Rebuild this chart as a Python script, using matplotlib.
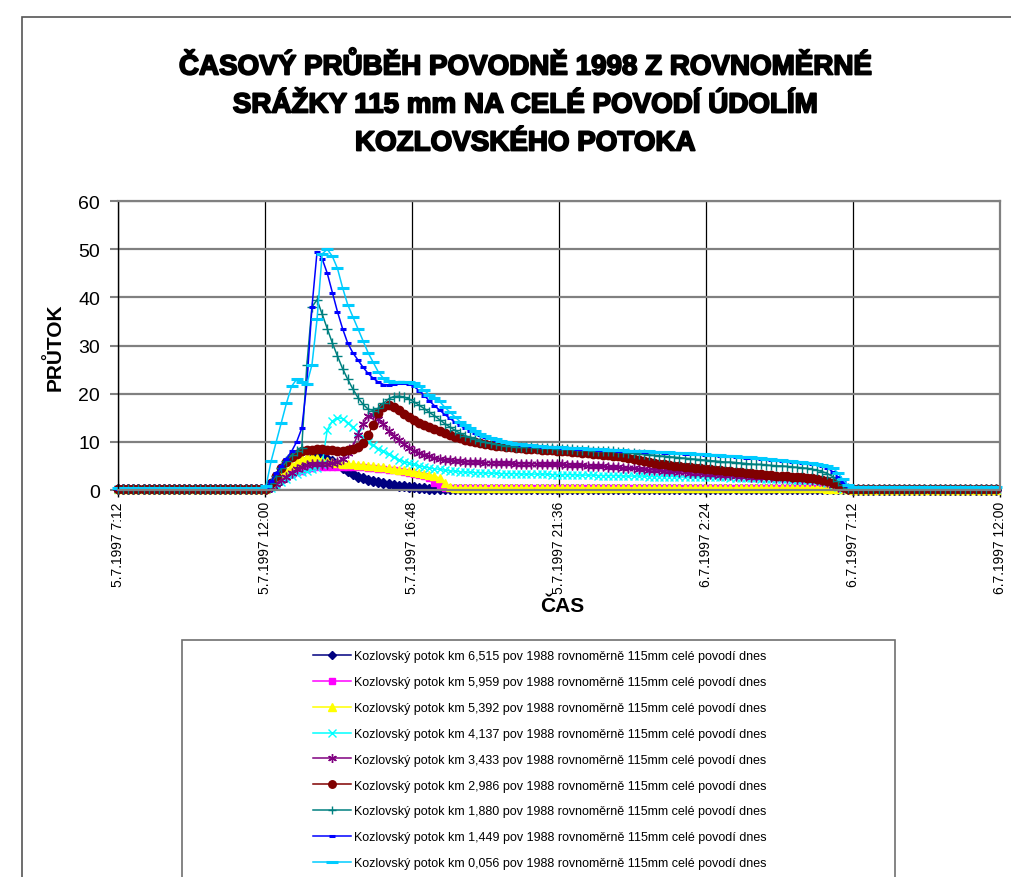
import numpy as np
import matplotlib.pyplot as plt
import matplotlib.patheffects as pe
from matplotlib.patches import Rectangle
from matplotlib.lines import Line2D

plt.rcParams['font.family'] = ['Liberation Sans', 'DejaVu Sans']

## Data: discharge every 10 minutes from 5.7.1997 7:12 (hours since 5.7. 0:00)
n_points = 173
hours = 7.2 + np.arange(n_points) / 6

km_6515 = ([0.2] * 29 +
           [0.3, 0.6, 1.2, 2.0, 2.8, 3.8, 4.8, 5.6, 6.2, 6.7,
            7.0, 6.9, 6.5, 6.0, 5.3, 4.6, 3.9, 3.3, 2.8, 2.4,
            2.1, 1.9, 1.7, 1.5, 1.3, 1.1, 0.9, 0.8, 0.7, 0.6,
            0.5, 0.4, 0.3, 0.25, 0.2] +
           [0.15] * 80 + [0.1] * 29)

km_5959 = ([0.2] * 29 +
           [0.3, 0.8, 1.5, 2.2, 2.8, 3.3, 3.7, 4.0, 4.3, 4.5,
            4.7, 4.8, 4.8, 4.8, 4.8, 4.8, 4.8, 4.8, 4.7, 4.7,
            4.6, 4.5, 4.4, 4.3, 4.2, 4.1, 4.0, 3.8, 3.6, 3.4,
            3.2, 3.0, 2.5, 1.5, 0.8, 0.5] +
           [0.4] * 74 + [0.3, 0.25, 0.2, 0.2, 0.2] + [0.15] * 29)

km_5392 = ([0.2] * 29 +
           [0.3, 1.0, 2.0, 3.0, 4.0, 5.0, 5.8, 6.4, 6.8, 6.9,
            6.7, 6.3, 6.0, 5.8, 5.6, 5.5, 5.4, 5.3, 5.2, 5.1,
            5.0, 4.9, 4.8, 4.7, 4.5, 4.4, 4.2, 4.1, 4.0, 3.8,
            3.6, 3.4, 3.2, 2.9, 2.5, 1.5, 0.6] +
           [0.45] * 73 + [0.3, 0.2, 0.2, 0.15, 0.15] + [0.1] * 29)

km_4137 = ([0.2] * 29 +
           [0.2, 0.5, 1.0, 1.6, 2.3, 2.9, 3.4, 3.7, 4.0, 4.3,
            4.6, 5.5, 12.5, 14.3, 15.0, 14.8, 14.0, 13.0, 12.0, 11.0,
            10.0, 9.3, 8.6, 8.0, 7.4, 6.8, 6.3, 5.9, 5.6, 5.3,
            5.0, 4.8, 4.6, 4.4, 4.3, 4.1, 4.0, 3.9, 3.8, 3.7,
            3.7, 3.6, 3.6, 3.5, 3.5, 3.5, 3.4, 3.4, 3.4, 3.4,
            3.3, 3.3, 3.3, 3.3, 3.3, 3.3, 3.2, 3.2, 3.2, 3.2,
            3.2, 3.1, 3.1, 3.1, 3.1, 3.0, 3.0, 3.0, 3.0, 3.0,
            2.9, 2.9, 2.9, 2.9, 2.9, 2.8, 2.8, 2.8, 2.8, 2.8,
            2.8, 2.7, 2.7, 2.7, 2.7, 2.7, 2.7, 2.6, 2.6, 2.6,
            2.6, 2.5, 2.5, 2.5, 2.4, 2.4, 2.4, 2.3, 2.3, 2.3,
            2.2, 2.2, 2.2, 2.1, 2.1, 2.1, 2.0, 2.0, 2.0, 1.9,
            1.5, 1.0, 0.6, 0.3, 0.2] +
           [0.15] * 29)

km_3433 = ([0.2] * 29 +
           [0.2, 0.6, 1.2, 2.0, 2.8, 3.6, 4.3, 4.8, 5.1, 5.3,
            5.4, 5.4, 5.5, 5.6, 5.8, 6.5, 7.6, 9.0, 11.5, 13.8,
            15.3, 15.5, 14.8, 13.6, 12.3, 11.2, 10.3, 9.5, 8.8, 8.2,
            7.7, 7.3, 7.0, 6.7, 6.5, 6.3, 6.2, 6.1, 6.0, 5.9,
            5.9, 5.8, 5.8, 5.7, 5.7, 5.7, 5.6, 5.6, 5.6, 5.5,
            5.5, 5.5, 5.5, 5.4, 5.4, 5.4, 5.3, 5.3, 5.3, 5.2,
            5.2, 5.1, 5.1, 5.0, 5.0, 4.9, 4.9, 4.8, 4.7, 4.7,
            4.6, 4.5, 4.5, 4.4, 4.3, 4.2, 4.2, 4.1, 4.0, 3.9,
            3.9, 3.8, 3.7, 3.6, 3.6, 3.5, 3.4, 3.3, 3.3, 3.2,
            3.1, 3.1, 3.0, 2.9, 2.9, 2.8, 2.8, 2.7, 2.7, 2.6,
            2.5, 2.5, 2.4, 2.4, 2.3, 2.3, 2.2, 2.1, 2.0, 1.9,
            1.6, 1.1, 0.7, 0.4, 0.3] +
           [0.2] * 29)

km_2986 = ([0.2] * 29 +
           [0.3, 1.5, 3.0, 4.5, 5.8, 6.8, 7.5, 8.0, 8.3, 8.4,
            8.5, 8.5, 8.4, 8.3, 8.2, 8.2, 8.3, 8.6, 9.0, 9.8,
            11.5, 13.5, 16.0, 17.3, 17.6, 17.3, 16.6, 15.8, 15.1, 14.5,
            14.0, 13.5, 13.0, 12.6, 12.2, 11.8, 11.4, 11.0, 10.7, 10.4,
            10.1, 9.9, 9.7, 9.5, 9.3, 9.2, 9.1, 9.0, 8.9, 8.8,
            8.7, 8.6, 8.5, 8.5, 8.4, 8.3, 8.3, 8.2, 8.1, 8.0,
            7.9, 7.8, 7.7, 7.6, 7.5, 7.4, 7.3, 7.2, 7.1, 7.0,
            6.8, 6.6, 6.4, 6.2, 6.0, 5.8, 5.6, 5.4, 5.3, 5.2,
            5.0, 4.9, 4.8, 4.7, 4.6, 4.5, 4.4, 4.3, 4.2, 4.1,
            4.0, 3.9, 3.8, 3.7, 3.6, 3.5, 3.4, 3.3, 3.2, 3.1,
            3.0, 3.0, 2.9, 2.8, 2.7, 2.6, 2.5, 2.4, 2.3, 2.1,
            1.9, 1.5, 1.0, 0.6, 0.3] +
           [0.2] * 29)

km_1880 = ([0.2] * 29 +
           [0.4, 1.5, 3.0, 4.5, 6.0, 7.2, 8.0, 8.8, 26.0, 38.0,
            39.5, 36.5, 33.5, 30.5, 27.8, 25.2, 23.0, 21.0, 19.2, 17.8,
            16.8, 16.5, 17.0, 18.0, 18.9, 19.4, 19.5, 19.3, 18.9, 18.3,
            17.6, 16.9, 16.1, 15.4, 14.6, 13.8, 13.1, 12.4, 11.8, 11.3,
            10.9, 10.5, 10.2, 9.9, 9.7, 9.5, 9.3, 9.2, 9.1, 9.0,
            9.0, 8.9, 8.9, 8.8, 8.8, 8.7, 8.7, 8.6, 8.6, 8.5,
            8.5, 8.4, 8.4, 8.3, 8.2, 8.2, 8.1, 8.0, 8.0, 7.9,
            7.8, 7.7, 7.6, 7.5, 7.4, 7.3, 7.2, 7.1, 7.0, 6.9,
            6.8, 6.7, 6.6, 6.5, 6.4, 6.3, 6.2, 6.1, 6.0, 5.9,
            5.8, 5.8, 5.7, 5.6, 5.5, 5.4, 5.3, 5.3, 5.2, 5.1,
            5.0, 5.0, 4.9, 4.8, 4.7, 4.6, 4.5, 4.3, 4.1, 3.8,
            3.4, 2.8, 1.9, 1.1, 0.5] +
           [0.3] * 29)

km_1449 = ([0.2] * 29 +
           [0.4, 1.8, 3.5, 5.0, 6.5, 8.0, 10.0, 12.8, 22.0, 38.0,
            49.5, 48.0, 45.0, 41.0, 37.0, 33.5, 30.5, 28.5, 27.0, 25.5,
            24.2, 23.2, 22.4, 21.9, 21.8, 22.0, 22.3, 22.3, 22.0, 21.5,
            20.6, 19.6, 18.5, 17.5, 16.6, 15.7, 14.9, 14.1, 13.4, 12.8,
            12.3, 11.8, 11.4, 11.0, 10.7, 10.4, 10.2, 9.9, 9.7, 9.5,
            9.4, 9.3, 9.2, 9.1, 9.0, 9.0, 8.9, 8.9, 8.8, 8.7,
            8.7, 8.6, 8.6, 8.5, 8.5, 8.4, 8.4, 8.3, 8.3, 8.2,
            8.1, 8.1, 8.0, 8.0, 7.9, 7.9, 7.8, 7.8, 7.7, 7.7,
            7.6, 7.6, 7.5, 7.5, 7.4, 7.4, 7.3, 7.2, 7.2, 7.1,
            7.0, 7.0, 6.9, 6.8, 6.7, 6.7, 6.6, 6.5, 6.4, 6.3,
            6.2, 6.1, 6.0, 5.9, 5.8, 5.7, 5.6, 5.5, 5.3, 5.0,
            4.6, 3.8, 2.8, 1.6, 0.8] +
           [0.5] * 29)

km_0056 = ([0.4] * 29 +
           [0.8, 6.0, 10.0, 14.0, 18.0, 21.5, 23.0, 22.5, 22.0, 26.0,
            35.5, 49.0, 50.0, 48.5, 46.0, 42.0, 38.5, 36.0, 33.5, 31.0,
            28.5, 26.5, 24.5, 23.2, 22.6, 22.4, 22.5, 22.5, 22.4, 22.2,
            21.5, 20.7, 19.8, 19.2, 18.4, 17.2, 16.2, 15.2, 14.2, 13.5,
            12.8, 12.2, 11.6, 11.2, 10.8, 10.5, 10.2, 10.0, 9.8, 9.6,
            9.5, 9.4, 9.3, 9.2, 9.1, 9.0, 9.0, 8.9, 8.9, 8.8,
            8.8, 8.7, 8.7, 8.6, 8.6, 8.5, 8.5, 8.4, 8.4, 8.3,
            8.3, 8.2, 8.1, 8.1, 8.0, 8.0, 7.9, 7.9, 7.8, 7.8,
            7.7, 7.7, 7.6, 7.6, 7.5, 7.5, 7.4, 7.3, 7.3, 7.2,
            7.1, 7.1, 7.0, 6.9, 6.8, 6.8, 6.7, 6.6, 6.5, 6.4,
            6.3, 6.2, 6.1, 6.0, 5.9, 5.8, 5.7, 5.6, 5.4, 5.2,
            5.0, 4.6, 3.6, 2.2, 1.0] +
           [0.7] * 29)

series = [km_6515, km_5959, km_5392, km_4137, km_3433,
          km_2986, km_1880, km_1449, km_0056]
km_labels = ["6,515", "5,959", "5,392", "4,137", "3,433",
             "2,986", "1,880", "1,449", "0,056"]
colors = ["#000080", "#FF00FF", "#FFFF00", "#00FFFF", "#800080",
          "#800000", "#008080", "#0000FF", "#00CCFF"]
markers = ["D", "s", "^", "x", (6, 2, 0), "o", "+", "_", "_"]
msizes = [5, 5, 6, 6, 7, 6, 7, 5, 9]

tick_hours = [7.2, 12, 16.8, 21.6, 26.4, 31.2, 36]
tick_labels = ["5.7.1997 7:12", "5.7.1997 12:00", "5.7.1997 16:48",
               "5.7.1997 21:36", "6.7.1997 2:24", "6.7.1997 7:12",
               "6.7.1997 12:00"]

W, H = 1012, 878
fig = plt.figure(figsize=(W / 100, H / 100), dpi=100)

# outer frame (only top and left edge are visible)
fig.patches.append(Rectangle((22 / W, -0.1), 1.2, 1 - 18 / H + 0.1,
                             transform=fig.transFigure, fill=False,
                             edgecolor="#555555", lw=1.2))

fig.text(525 / W, 1 - 106 / H,
         "ČASOVÝ PRŮBĚH POVODNĚ 1998 Z ROVNOMĚRNÉ\n"
         "SRÁŽKY 115 mm NA CELÉ POVODÍ ÚDOLÍM\n"
         "KOZLOVSKÉHO POTOKA",
         ha="center", va="center", fontsize=20, fontweight="bold",
         linespacing=1.6,
         path_effects=[pe.withStroke(linewidth=1.3, foreground="black")])

ax = fig.add_axes([118 / W, 1 - 491 / H, 882 / W, 289 / H])
ax.set_axisbelow(True)

handles = []
for vals, km, c, m, ms in zip(series, km_labels, colors, markers, msizes):
    mew = 2.2 if m == "_" else 1.0
    line, = ax.plot(hours, vals, color=c, lw=1.1, marker=m, ms=ms,
                    mfc=c, mec=c, mew=mew, clip_on=False)
    handles.append(line)

ax.set_xlim(7.2, 36)
ax.set_ylim(0, 60)
ax.set_yticks(range(0, 61, 10))
ax.set_xticks(tick_hours)
ax.set_xticklabels(tick_labels, rotation=90, fontsize=10)
ax.tick_params(axis="y", labelsize=14, length=6, color="#808080", width=1.5, pad=7)
ax.tick_params(axis="x", length=5, color="black", width=1, pad=3)

ax.yaxis.grid(True, color="#808080", lw=1.6)
ax.xaxis.grid(True, color="black", lw=0.9)
for side in ["top", "right", "bottom"]:
    ax.spines[side].set_color("#808080")
    ax.spines[side].set_linewidth(1.6)
ax.spines["left"].set_color("black")
ax.spines["left"].set_linewidth(1.0)

fig.text(55 / W, 1 - 347 / H, "PRŮTOK", rotation=90, ha="center",
         va="center", fontsize=15, fontweight="bold")
fig.text(562 / W, 1 - 607 / H, "ČAS", ha="center", va="center",
         fontsize=15, fontweight="bold")

# legend box reaches past the bottom edge
fig.patches.append(Rectangle((182 / W, -0.1), (895 - 182) / W, 1 - 641 / H + 0.1,
                             transform=fig.transFigure, fill=False,
                             edgecolor="#707070", lw=1.2))
labels = ["Kozlovský potok km %s pov 1988 rovnoměrně 115mm celé povodí dnes" % k
          for k in km_labels]
leg_handles = [Line2D([], [], color=h.get_color(), lw=1.1, marker=h.get_marker(),
                      ms=h.get_markersize() * 0.9, mfc=h.get_color(),
                      mec=h.get_color(), mew=h.get_markeredgewidth())
               for h in handles]
fig.legend(leg_handles, labels, loc="upper center",
           bbox_to_anchor=(540 / W, 1 - 640 / H), frameon=False,
           fontsize=9, labelspacing=1.11, handlelength=3.0,
           handletextpad=0.3, numpoints=1)

fig.savefig("out.png", dpi=100)
